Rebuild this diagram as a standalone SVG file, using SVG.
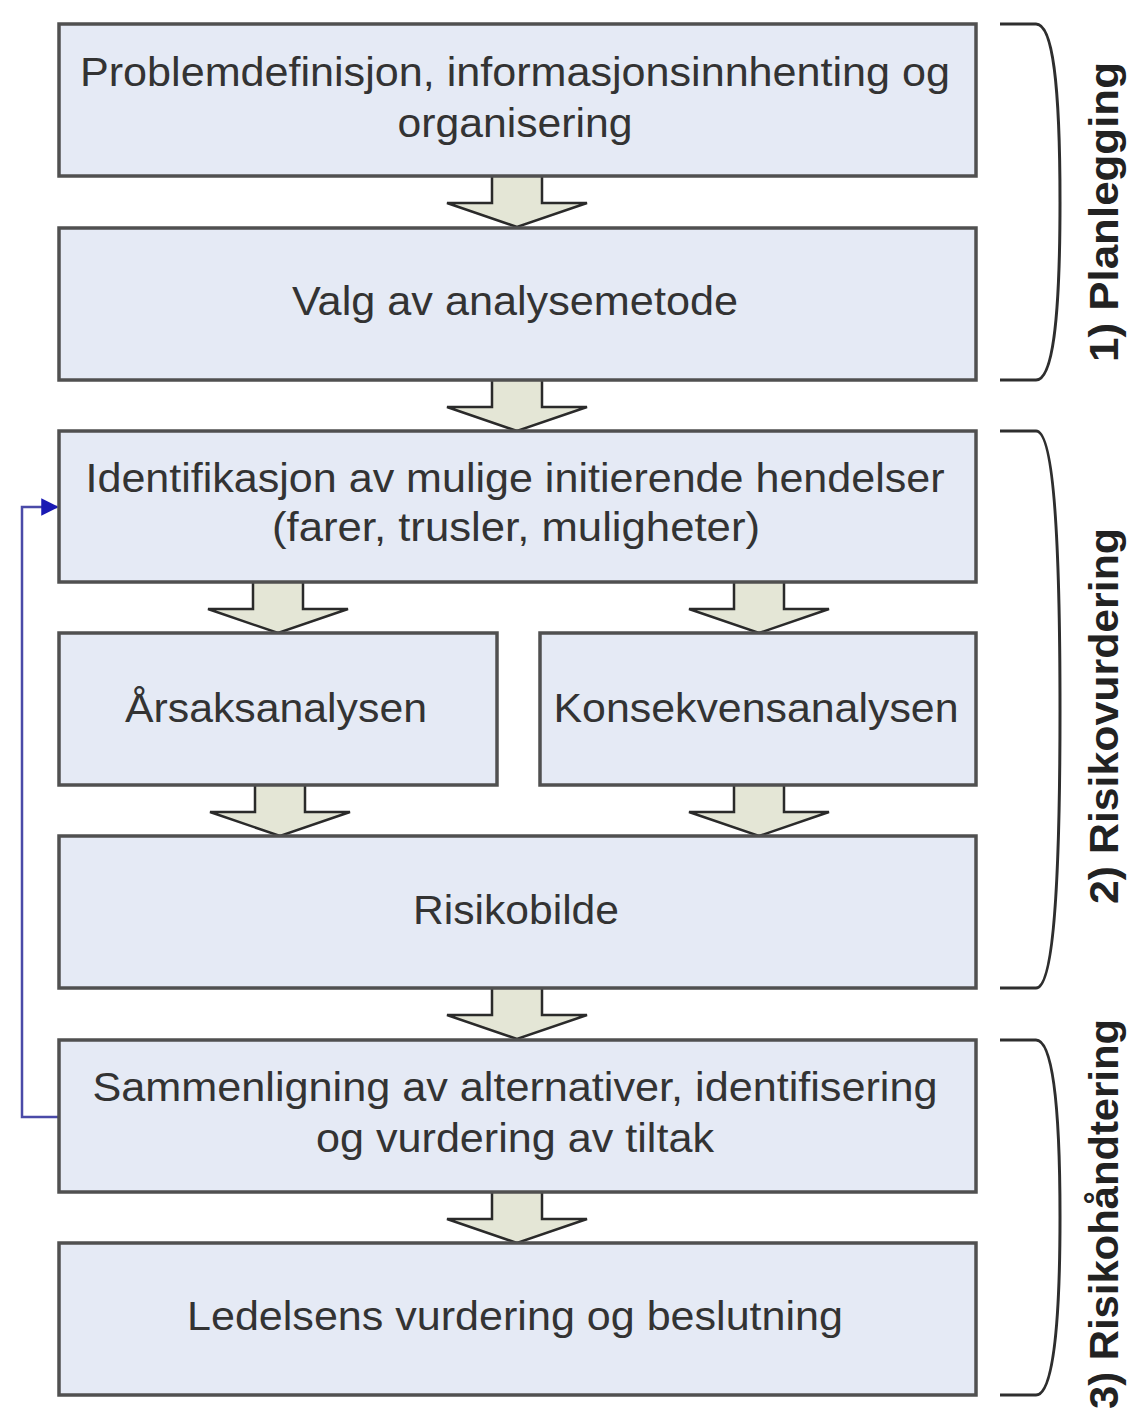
<svg xmlns="http://www.w3.org/2000/svg" width="1134" height="1420" viewBox="0 0 1134 1420">
<defs>
<style>
.box{fill:#e5eaf5;stroke:#505050;stroke-width:3.5}
.t{font-family:"Liberation Sans",Arial,sans-serif;font-size:40px;fill:#333333;text-anchor:middle}
.lbl{font-family:"Liberation Sans",Arial,sans-serif;font-size:40px;font-weight:bold;fill:#222222;text-anchor:middle}
.arr{fill:#e4e6d6;stroke:#2a2a2a;stroke-width:2.5;stroke-linejoin:miter}
.brace{fill:none;stroke:#2e2e2e;stroke-width:3}
.fb{fill:none;stroke:#4a4aa8;stroke-width:2.5}
</style>
<marker id="ah" viewBox="0 0 10 10" refX="9" refY="5" markerWidth="8" markerHeight="7" orient="auto" markerUnits="strokeWidth">
<path d="M0,0 L10,5 L0,10 Z" fill="#1a1ab4"/>
</marker>
</defs>
<rect width="1134" height="1420" fill="#ffffff"/>

<g id="connectors">
<path class="arr" d="M492,176 V203 H447 L517,227 L587,203 H542 V176"/>
<path class="arr" d="M492,380 V407 H447 L517,431 L587,407 H542 V380"/>
<path class="arr" d="M253,582 V609 H208 L278,633 L348,609 H303 V582"/>
<path class="arr" d="M734,582 V609 H689 L759,633 L829,609 H784 V582"/>
<path class="arr" d="M255,785 V812 H210 L280,836 L350,812 H305 V785"/>
<path class="arr" d="M734,785 V812 H689 L759,836 L829,812 H784 V785"/>
<path class="arr" d="M492,988 V1015 H447 L517,1039 L587,1015 H542 V988"/>
<path class="arr" d="M492,1192 V1219 H447 L517,1243 L587,1219 H542 V1192"/>
<path class="fb" d="M59,1117 H22 V507 H57" marker-end="url(#ah)"/>
</g>

<g id="n1">
<rect class="box" x="59" y="24" width="917" height="152"/>
<text class="t" x="515" y="86" textLength="870" lengthAdjust="spacingAndGlyphs">Problemdefinisjon, informasjonsinnhenting og</text>
<text class="t" x="515" y="137" textLength="235" lengthAdjust="spacingAndGlyphs">organisering</text>
</g>
<g id="n2">
<rect class="box" x="59" y="228" width="917" height="152"/>
<text class="t" x="515" y="315" textLength="446" lengthAdjust="spacingAndGlyphs">Valg av analysemetode</text>
</g>
<g id="n3">
<rect class="box" x="59" y="431" width="917" height="151"/>
<text class="t" x="515" y="492" textLength="859" lengthAdjust="spacingAndGlyphs">Identifikasjon av mulige initierende hendelser</text>
<text class="t" x="516" y="541" textLength="488" lengthAdjust="spacingAndGlyphs">(farer, trusler, muligheter)</text>
</g>
<g id="n4">
<rect class="box" x="59" y="633" width="438" height="152"/>
<text class="t" x="276" y="722" textLength="302" lengthAdjust="spacingAndGlyphs">Årsaksanalysen</text>
</g>
<g id="n5">
<rect class="box" x="540" y="633" width="436" height="152"/>
<text class="t" x="756" y="722" textLength="405" lengthAdjust="spacingAndGlyphs">Konsekvensanalysen</text>
</g>
<g id="n6">
<rect class="box" x="59" y="836" width="917" height="152"/>
<text class="t" x="516" y="924" textLength="206" lengthAdjust="spacingAndGlyphs">Risikobilde</text>
</g>
<g id="n7">
<rect class="box" x="59" y="1040" width="917" height="152"/>
<text class="t" x="515" y="1101" textLength="845" lengthAdjust="spacingAndGlyphs">Sammenligning av alternativer, identifisering</text>
<text class="t" x="515" y="1152" textLength="398" lengthAdjust="spacingAndGlyphs">og vurdering av tiltak</text>
</g>
<g id="n8">
<rect class="box" x="59" y="1243" width="917" height="152"/>
<text class="t" x="515" y="1330" textLength="656" lengthAdjust="spacingAndGlyphs">Ledelsens vurdering og beslutning</text>
</g>

<g id="phase1">
<path class="brace" d="M1000,24 H1036 C1052,24 1060,80 1060,202 C1060,324 1052,380 1036,380 H1000"/>
<text class="lbl" transform="translate(1118,212) rotate(-90)" textLength="300" lengthAdjust="spacingAndGlyphs">1) Planlegging</text>
</g>
<g id="phase2">
<path class="brace" d="M1000,431 H1036 C1052,431 1060,520 1060,710 C1060,900 1052,988 1036,988 H1000"/>
<text class="lbl" transform="translate(1118,716) rotate(-90)" textLength="376" lengthAdjust="spacingAndGlyphs">2) Risikovurdering</text>
</g>
<g id="phase3">
<path class="brace" d="M1000,1040 H1036 C1052,1040 1060,1100 1060,1217 C1060,1334 1052,1395 1036,1395 H1000"/>
<text class="lbl" transform="translate(1118,1214) rotate(-90)" textLength="390" lengthAdjust="spacingAndGlyphs">3) Risikohåndtering</text>
</g>
</svg>
